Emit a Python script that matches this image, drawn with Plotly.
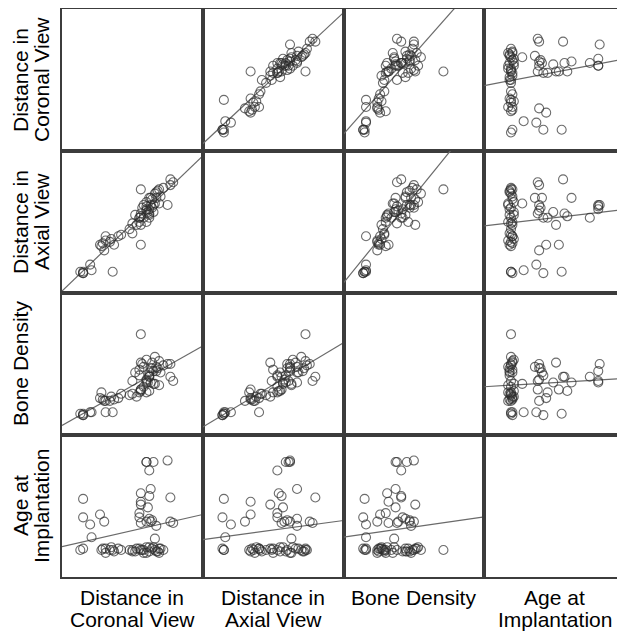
import numpy as np
import plotly.graph_objects as go

# Normalised values (each variable scaled to its panel range 0..1)
coronal = [0.15, 0.13, 0.15, 0.15, 0.20, 0.21, 0.36, 0.56, 0.56,
           0.27, 0.30, 0.28, 0.29, 0.31, 0.34, 0.35, 0.37, 0.40, 0.42, 0.31,
           0.60, 0.60, 0.65, 0.75, 0.62, 0.63, 0.56, 0.62, 0.77, 0.56, 0.61,
           0.55, 0.55, 0.62, 0.64, 0.56, 0.60, 0.63, 0.67, 0.77, 0.79, 0.66,
           0.48, 0.50, 0.53, 0.60, 0.62, 0.50, 0.52, 0.55, 0.57, 0.58, 0.60,
           0.62, 0.64, 0.66, 0.68, 0.70, 0.72, 0.65, 0.69, 0.58, 0.69, 0.67]
axial = [0.14, 0.15, 0.15, 0.14, 0.20, 0.16, 0.15, 0.34, 0.73,
         0.34, 0.30, 0.33, 0.35, 0.37, 0.36, 0.38, 0.34, 0.40, 0.41, 0.40,
         0.59, 0.61, 0.62, 0.62, 0.53, 0.67, 0.54, 0.56, 0.80, 0.48, 0.57,
         0.53, 0.53, 0.67, 0.60, 0.56, 0.58, 0.62, 0.67, 0.76, 0.78, 0.63,
         0.45, 0.42, 0.48, 0.50, 0.55, 0.49, 0.55, 0.50, 0.60, 0.62, 0.64,
         0.59, 0.66, 0.70, 0.72, 0.68, 0.74, 0.57, 0.63, 0.53, 0.73, 0.71]
bone_density = [0.14, 0.15, 0.15, 0.14, 0.16, 0.16, 0.16, 0.32, 0.71,
                0.26, 0.24, 0.30, 0.25, 0.24, 0.24, 0.27, 0.25, 0.26, 0.29, 0.16,
                0.37, 0.38, 0.45, 0.50, 0.41, 0.37, 0.31, 0.41, 0.41, 0.51, 0.37,
                0.30, 0.42, 0.44, 0.47, 0.32, 0.39, 0.47, 0.48, 0.50, 0.38, 0.36,
                0.28, 0.29, 0.27, 0.30, 0.31, 0.38, 0.44, 0.46, 0.50, 0.48, 0.53,
                0.42, 0.51, 0.55, 0.47, 0.44, 0.49, 0.36, 0.35, 0.34, 0.52, 0.45]
age = [0.20, 0.19, 0.55, 0.42, 0.37, 0.28, 0.19, 0.53, 0.19,
       0.44, 0.39, 0.19, 0.20, 0.17, 0.19, 0.21, 0.18, 0.20, 0.19, 0.20,
       0.81, 0.81, 0.81, 0.82, 0.75, 0.62, 0.59, 0.57, 0.56, 0.51, 0.49,
       0.45, 0.42, 0.41, 0.40, 0.38, 0.39, 0.39, 0.36, 0.39, 0.38, 0.27,
       0.19, 0.18, 0.20, 0.17, 0.21, 0.19, 0.18, 0.20, 0.19, 0.17, 0.21,
       0.18, 0.20, 0.19, 0.18, 0.20, 0.19, 0.21, 0.17, 0.19, 0.20, 0.18]

labels = [["Distance in", "Coronal View"], ["Distance in", "Axial View"],
          ["Bone Density"], ["Age at", "Implantation"]]
variables = [coronal, axial, bone_density, age]

OFF = 8  # page body margin
W, H = 625 - OFF, 631 - OFF
ML, MR, MT, MB = 62 - OFF, 0, 1, 54
n = 4
border = "#3c3c3c"
FONT = "Liberation Sans, Arial, sans-serif"
pw = W - ML - MR
ph = H - MT - MB


def px_x(sx):
    return (sx - OFF - ML) / pw


def px_y(sy):
    return (MT + ph - (sy - OFF)) / ph


fig = go.Figure()
layout = dict(width=W, height=H, margin=dict(l=ML, r=MR, t=MT, b=MB),
              paper_bgcolor="white", plot_bgcolor="white", showlegend=False)

for i in range(n):
    for j in range(n):
        k = i * n + j + 1
        xs = "" if k == 1 else str(k)
        xa, ya = "x" + xs, "y" + xs
        layout["xaxis" + xs] = dict(domain=[j / n, (j + 1) / n], anchor=ya, range=[0, 1],
                                    showline=True, mirror=True, linecolor=border, linewidth=2,
                                    showgrid=False, zeroline=False, ticks="",
                                    showticklabels=False, fixedrange=True)
        layout["yaxis" + xs] = dict(domain=[1 - (i + 1) / n, 1 - i / n], anchor=xa, range=[0, 1],
                                    showline=True, mirror=(j < n - 1), linecolor=border, linewidth=2,
                                    showgrid=False, zeroline=False, ticks="",
                                    showticklabels=False, fixedrange=True)
        if i == j:
            fig.add_trace(go.Scatter(x=[], y=[], xaxis=xa, yaxis=ya, hoverinfo="skip"))
            continue
        xv = np.array(variables[j])
        yv = np.array(variables[i])
        slope, icpt = np.polyfit(xv, yv, 1)
        lx = np.array([0.0, 1.0])
        fig.add_trace(go.Scatter(x=lx, y=icpt + slope * lx, mode="lines",
                                 line=dict(color="#6a6a6a", width=1.2),
                                 xaxis=xa, yaxis=ya, hoverinfo="skip"))
        fig.add_trace(go.Scatter(x=xv, y=yv, mode="markers",
                                 marker=dict(symbol="circle-open", size=9,
                                             color="rgba(45,45,45,0.7)",
                                             line=dict(width=1.1)),
                                 xaxis=xa, yaxis=ya, cliponaxis=False))

row_line_x = [20, 41]      # screen px, centre of each text line (rotated)
col_line_y = [597, 619]    # screen px, centre of each text line
FS = 21
ann = []
for i, lines in enumerate(labels):
    for li, txt in enumerate(lines):
        ann.append(dict(text=txt, xref="paper", yref="paper",
                        x=px_x(row_line_x[li]), y=1 - (i + 0.5) / n,
                        xanchor="center", yanchor="middle", textangle=-90,
                        showarrow=False, font=dict(family=FONT, size=FS, color="black")))
        ann.append(dict(text=txt, xref="paper", yref="paper",
                        x=(i + 0.5) / n, y=px_y(col_line_y[li]),
                        xanchor="center", yanchor="middle",
                        showarrow=False, font=dict(family=FONT, size=FS, color="black")))
layout["annotations"] = ann

fig.update_layout(**layout)
fig.write_html("out.html")
